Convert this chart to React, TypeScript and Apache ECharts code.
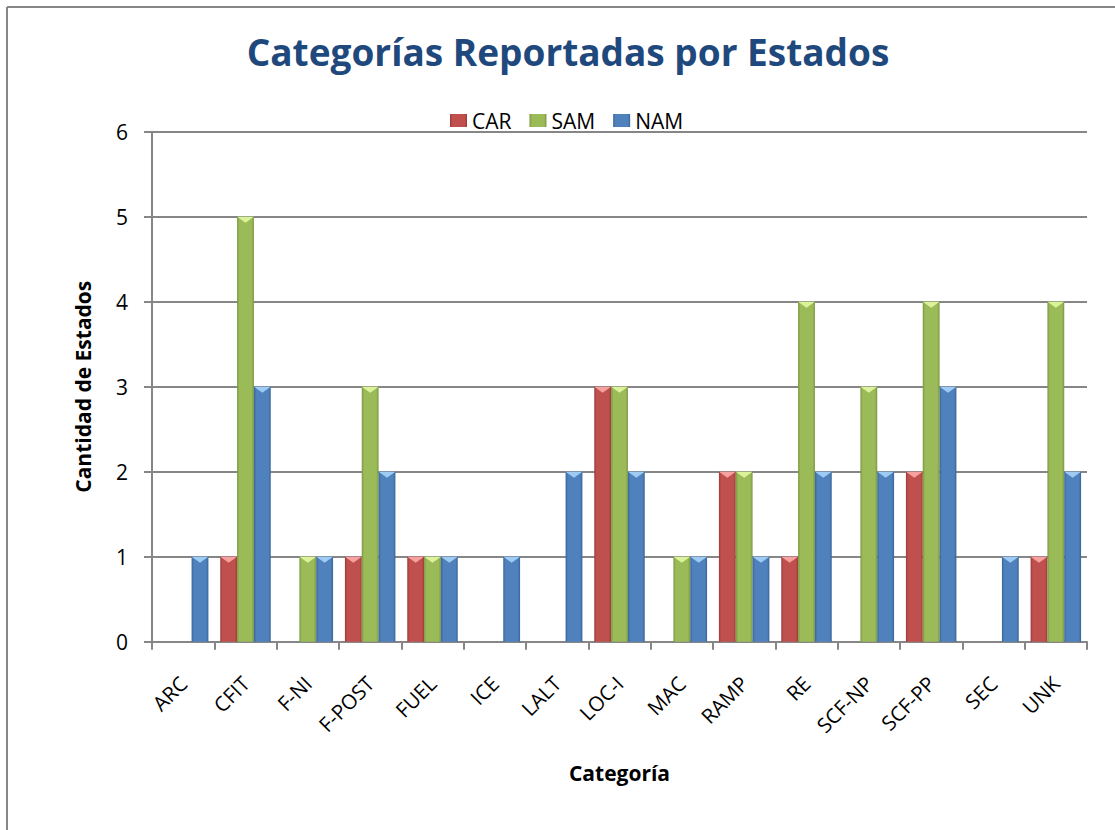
import React, { useEffect, useRef } from "react";
import * as echarts from "echarts";

const categories = ["ARC", "CFIT", "F-NI", "F-POST", "FUEL", "ICE", "LALT", "LOC-I", "MAC", "RAMP", "RE", "SCF-NP", "SCF-PP", "SEC", "UNK"];
const carValues = [0, 1, 0, 1, 1, 0, 0, 3, 0, 2, 1, 0, 2, 0, 1];
const samValues = [0, 5, 1, 3, 1, 0, 0, 3, 1, 2, 4, 3, 4, 0, 4];
const namValues = [1, 3, 1, 2, 1, 1, 2, 2, 1, 1, 2, 2, 3, 1, 2];
const seriesNames = ["CAR", "SAM", "NAM"];
const yTicks = [0, 1, 2, 3, 4, 5, 6];

const FONT = "Open Sans";

const palette = [
  { base: "#c0504d", dark: "#9b3b39", light: "#f4a19f" },
  { base: "#9bbb59", dark: "#7a963f", light: "#dcf29a" },
  { base: "#4f81bd", dark: "#3a6597", light: "#9dcbf3" },
];

export default function App() {
  const ref = useRef<HTMLDivElement>(null);
  useEffect(() => {
    if (!ref.current) return;
    const chart = echarts.init(ref.current, null, { renderer: "svg" });
    const allValues = [carValues, samValues, namValues];
    const barSeries = allValues.map((vals, i) => ({
      name: seriesNames[i],
      type: "bar",
      data: vals,
      barGap: "0%",
      barCategoryGap: "19%",
      itemStyle: {
        color: new echarts.graphic.LinearGradient(0, 0, 1, 0, [
          { offset: 0, color: palette[i].dark },
          { offset: 0.14, color: palette[i].base },
          { offset: 0.86, color: palette[i].base },
          { offset: 1, color: palette[i].dark },
        ]),
      },
    }));
    const topSeries = allValues.map((vals, i) => ({
      name: seriesNames[i] + "-top",
      type: "pictorialBar",
      data: vals.map((v) => (v > 0 ? v : "-")),
      barGap: "0%",
      barCategoryGap: "19%",
      symbol: "path://M0,0 L10,0 L5,6 Z",
      symbolSize: ["100%", 6],
      symbolPosition: "end",
      z: 3,
      itemStyle: { color: palette[i].light },
      silent: true,
    }));
    const option = {
      animation: false,
      backgroundColor: "#ffffff",
      title: {
        text: "Categorías Reportadas por Estados",
        left: 563,
        top: 28,
        textAlign: "center",
        textStyle: { fontFamily: FONT, fontWeight: "bold", fontSize: 37, color: "#1f497d" },
      },
      legend: {
        data: seriesNames,
        left: 450,
        top: 110,
        padding: 0,
        icon: "rect",
        itemWidth: 17,
        itemHeight: 13,
        itemGap: 18,
        textStyle: { fontFamily: FONT, fontSize: 21, color: "#000" },
      },
      grid: { left: 152, right: 28, top: 131.7, bottom: 188.3, containLabel: false },
      xAxis: {
        type: "category",
        data: categories,
        name: "Categoría",
        nameLocation: "middle",
        nameGap: 121,
        nameTextStyle: { fontFamily: FONT, fontWeight: "bold", fontSize: 21, color: "#000" },
        axisLine: { lineStyle: { color: "#868686", width: 2 } },
        axisTick: { show: true, alignWithLabel: false, length: 8, lineStyle: { color: "#868686", width: 2 } },
        axisLabel: { rotate: 45, interval: 0, margin: 38, fontFamily: FONT, fontSize: 20.5, color: "#000" },
      },
      yAxis: {
        type: "value",
        min: 0,
        max: yTicks[yTicks.length - 1],
        interval: 1,
        name: "Cantidad de Estados",
        nameLocation: "middle",
        nameGap: 59,
        nameTextStyle: { fontFamily: FONT, fontWeight: "bold", fontSize: 21, color: "#000" },
        axisLine: { show: true, lineStyle: { color: "#868686", width: 2 } },
        axisTick: { show: true, length: 8, lineStyle: { color: "#868686", width: 2 } },
        splitLine: { lineStyle: { color: "#868686", width: 2 } },
        axisLabel: { margin: 24, fontFamily: FONT, fontSize: 21, color: "#000" },
      },
      graphic: [
        { type: "line", shape: { x1: 7, y1: 7, x2: 1115, y2: 7 }, style: { stroke: "#878787", lineWidth: 2 } },
        { type: "line", shape: { x1: 7, y1: 7, x2: 7, y2: 830 }, style: { stroke: "#878787", lineWidth: 2 } },
      ],
      series: [...barSeries, ...topSeries],
    };
    chart.setOption(option as any);
    return () => chart.dispose();
  }, []);
  return <div ref={ref} style={{ position: "absolute", left: 0, top: 0, width: 1115, height: 830 }} />;
}
